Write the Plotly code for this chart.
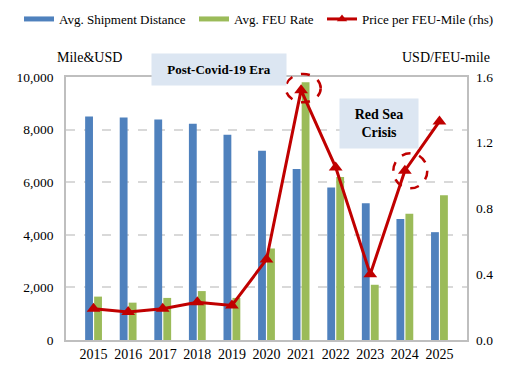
import plotly.graph_objects as go

years = ["2015", "2016", "2017", "2018", "2019", "2020", "2021", "2022", "2023", "2024", "2025"]
avg_distance = [8500, 8460, 8380, 8220, 7800, 7200, 6500, 5800, 5200, 4600, 4100]
avg_feu_rate = [1650, 1420, 1600, 1860, 1600, 3480, 9800, 6200, 2100, 4800, 5500]
price_per_feu_mile = [0.19, 0.17, 0.19, 0.23, 0.21, 0.49, 1.52, 1.05, 0.40, 1.03, 1.33]

left_ticks = [0, 2000, 4000, 6000, 8000, 10000]
right_ticks = [0.0, 0.4, 0.8, 1.2, 1.6]

BLUE = "#4F81BD"
GREEN = "#9BBB59"
RED = "#C00000"
FONT = "Liberation Serif"

fig = go.Figure()
fig.add_trace(go.Bar(x=years, y=avg_distance, name="Avg. Shipment Distance",
                     marker=dict(color=BLUE, line=dict(width=0)), showlegend=False))
fig.add_trace(go.Bar(x=years, y=avg_feu_rate, name="Avg. FEU Rate",
                     marker=dict(color=GREEN, line=dict(width=0)), showlegend=False))
fig.add_trace(go.Scatter(x=years, y=price_per_feu_mile, name="Price per FEU-Mile (rhs)",
                         yaxis="y2", mode="lines+markers",
                         line=dict(color=RED, width=3),
                         marker=dict(symbol="triangle-up", size=12, color=RED),
                         showlegend=False))
# legend proxies (one legend each, so they can be placed freely)
fig.add_trace(go.Scatter(x=[None], y=[None], mode="lines", name="Avg. Shipment Distance",
                         line=dict(color=BLUE, width=5), legend="legend"))
fig.add_trace(go.Scatter(x=[None], y=[None], mode="lines", name="Avg. FEU Rate",
                         line=dict(color=GREEN, width=5), legend="legend2"))
fig.add_trace(go.Scatter(x=[None], y=[None], mode="lines+markers", name="Price per FEU-Mile (rhs)",
                         line=dict(color=RED, width=3),
                         marker=dict(symbol="triangle-up", size=9, color=RED), legend="legend3"))

W, H, L, T, PW, PH = 527, 368, 66, 77, 401, 263


def legend_at(xpix):
    return dict(orientation="h", x=xpix / W, xref="container", xanchor="left",
                y=1 - 19 / H, yref="container", yanchor="middle",
                font=dict(family=FONT, size=13, color="black"),
                bgcolor="rgba(0,0,0,0)", borderwidth=0)


fig.update_layout(
    width=W, height=H,
    margin=dict(l=L, r=W - L - PW, t=T, b=H - T - PH, autoexpand=False),
    paper_bgcolor="white", plot_bgcolor="white",
    font=dict(family=FONT, size=13, color="black"),
    barmode="group", bargap=0.48, bargroupgap=0.13,
    showlegend=True,
    legend=legend_at(19),
    legend2=legend_at(194),
    legend3=legend_at(322),
    xaxis=dict(type="category", showline=True, linecolor="#BFBFBF", linewidth=1.5,
               mirror=True, ticks="", tickfont=dict(family=FONT, size=14),
               showgrid=False, automargin=False),
    yaxis=dict(range=[0, 10000], tickvals=left_ticks, tickformat=",",
               showline=True, linecolor="#BFBFBF", linewidth=1.5, mirror=True,
               showgrid=True, gridcolor="#D9D9D9", griddash="dash", gridwidth=1.5,
               zeroline=False, ticks="", ticklabelstandoff=8,
               tickfont=dict(family=FONT, size=13.5), automargin=False),
    yaxis2=dict(range=[0, 1.6], tickvals=right_ticks, tickformat=".1f",
                overlaying="y", side="right", showgrid=False, zeroline=False,
                showline=False, ticks="", ticklabelstandoff=8,
                tickfont=dict(family=FONT, size=13.5), automargin=False),
)


def px(xp):
    return (xp - L) / PW


def py(yp):
    return (T + PH - yp) / PH


def note(text, x, y, size, **kw):
    fig.add_annotation(text=text, x=px(x), y=py(y), xref="paper", yref="paper",
                       xanchor="center", yanchor="middle", showarrow=False,
                       font=dict(family=FONT, size=size, color="black"), **kw)


note("Mile&USD", 89, 57, 14)
note("USD/FEU-mile", 446, 57, 14)
note("<b>Post-Covid-19 Era</b>", 219, 69.5, 13, bgcolor="#DCE6F2",
     width=134, height=31, borderpad=0)
note("<b>Red Sea<br>Crisis</b>", 379, 123.7, 14, bgcolor="#DCE6F2",
     width=78, height=49, borderpad=0)

fig.add_shape(type="circle", xref="paper", yref="paper",
              x0=px(285.7), x1=px(320.7), y0=py(102.3), y1=py(74),
              line=dict(color=RED, width=2.5, dash="dash"), layer="above")
fig.add_shape(type="circle", xref="paper", yref="paper",
              x0=px(393.3), x1=px(427.3), y0=py(188.3), y1=py(153.3),
              line=dict(color=RED, width=2.5, dash="dash"), layer="above")

fig.write_html("out.html", config={"displayModeBar": False},
               post_script="document.body.style.margin='0';")
